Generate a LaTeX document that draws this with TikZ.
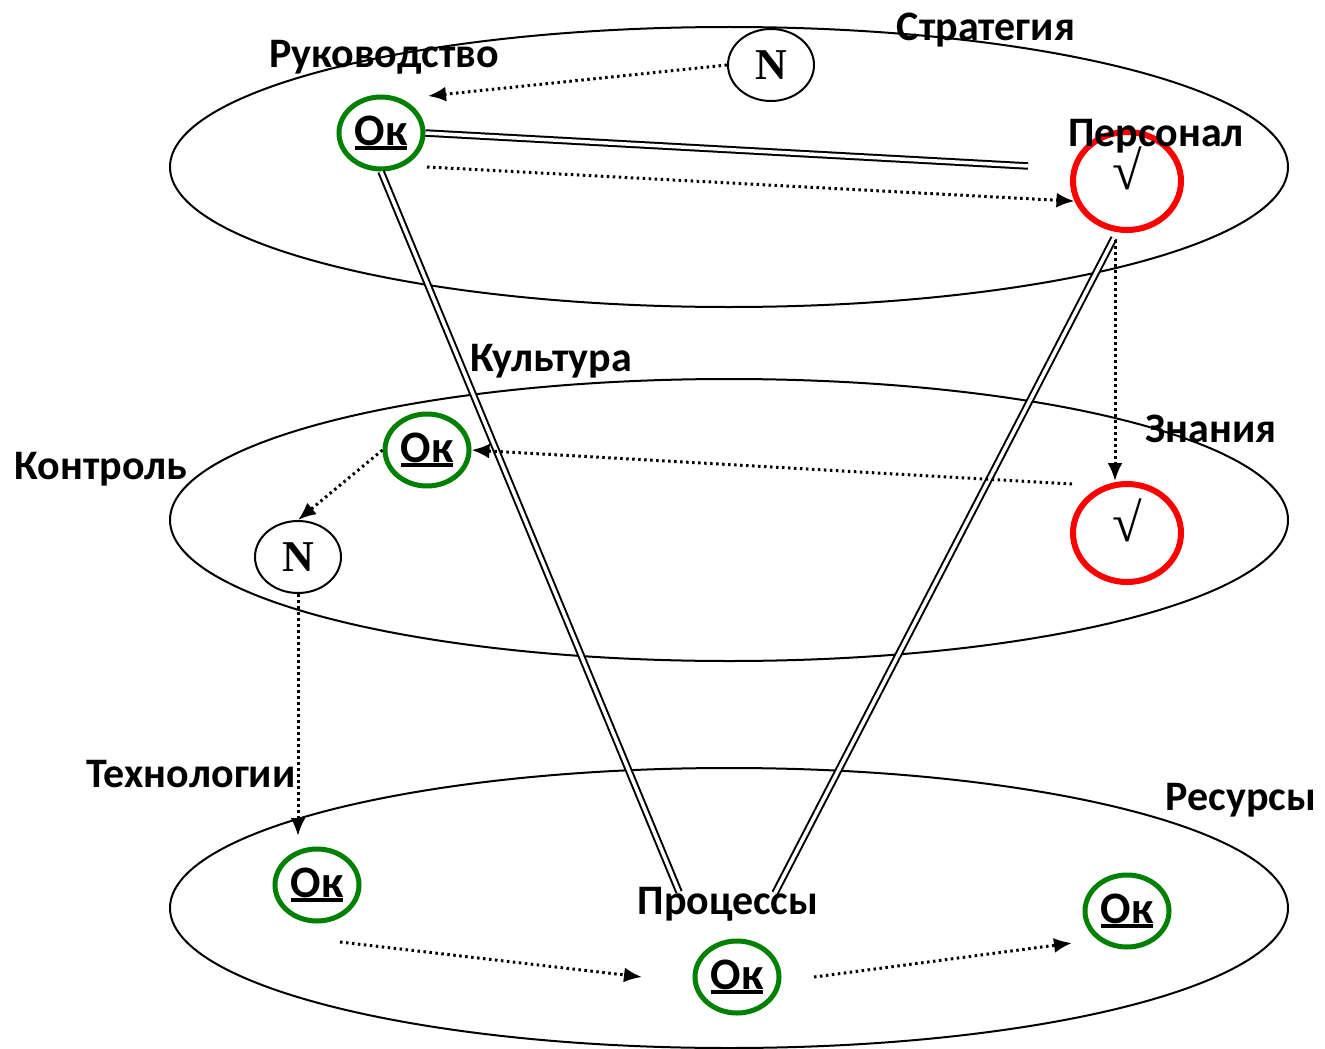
\documentclass[tikz,border=0pt]{standalone}
\usepackage{fontspec}
\setmainfont{Carlito}
\newfontfamily\serifN{Liberation Serif}
\usepackage{tikz}
\usetikzlibrary{shapes.geometric,arrows.meta}
\definecolor{okgreen}{RGB}{0,128,0}
\definecolor{badred}{RGB}{255,0,0}
\newcommand{\okt}{\setbox0\hbox{Ок}\rlap{\rule[-5pt]{\wd0}{4pt}}\box0}
\newcommand{\chk}{\raisebox{-8pt}[0pt][0pt]{√}}

\begin{document}
\begin{tikzpicture}[x=1pt,y=-1pt,
	level/.style={draw,line width=2pt},
	lbl/.style={font=\fontsize{42}{44}\selectfont\bfseries,inner sep=0pt},
	ok/.style={ellipse,draw=okgreen,line width=5pt,minimum width=84,minimum height=72,inner sep=0pt,font=\fontsize{45}{47}\selectfont\bfseries},
	bad/.style={ellipse,draw=badred,line width=6pt,minimum width=108,minimum height=98,inner sep=0pt,font=\serifN\fontsize{54}{56}\selectfont},
	nn/.style={ellipse,draw,line width=2pt,minimum width=86,minimum height=72,inner sep=0pt,font=\serifN\fontsize{44}{46}\selectfont\bfseries},
	link/.style={double,line width=2pt,double distance=3.5pt},
	flow/.style={line width=3pt,dash pattern=on 2.5pt off 3.5pt,-{Latex[length=18pt,width=15pt]}},
	]
	\useasboundingbox (0,0) rectangle (1325,1049);
	% levels
	\draw[level] (729,167) ellipse [x radius=559,y radius=140];
	\draw[level] (729,520) ellipse [x radius=559,y radius=141];
	\draw[level] (729,908) ellipse [x radius=559,y radius=140];
	% nodes
	\node[nn] (Ntop) at (771,65) {N};
	\node[ok] (OkTop) at (381,133) {\okt};
	\node[bad] (RedTop) at (1127,181) {\chk};
	\node[ok] (OkMid) at (427,450) {\okt};
	\node[nn] (Nmid) at (298,557) {N};
	\node[bad] (RedMid) at (1127,533) {\chk};
	\node[ok] (OkLeft) at (317,885) {\okt};
	\node[ok] (OkProc) at (737,977) {\okt};
	\node[ok] (OkRight) at (1127,911) {\okt};
	% free ends
	\coordinate (t1) at (428,96);
	\coordinate (t2) at (1028,166);
	\coordinate (t3) at (427,167);
	\coordinate (p1) at (679,892);
	\coordinate (p2) at (775,893);
	\coordinate (r1) at (1114,238);
	\coordinate (d1) at (1115,240);
	\coordinate (k1) at (1072,484);
	\coordinate (n1) at (298,836);
	\coordinate (b1) at (340,942);
	\coordinate (b2) at (642,977);
	\coordinate (b3) at (814,977);
	\coordinate (b4) at (1072,943);
	% links
	\draw[link] (OkTop.east) -- (t2);
	\draw[link] (OkTop.south) -- (p1);
	\draw[link] (r1) -- (p2);
	% flows
	\draw[flow] (Ntop.west) -- (t1);
	\draw[flow] (t3) -- (RedTop.201);
	\draw[flow] (d1) -- (d1 |- RedMid.north);
	\draw[flow] (k1) -- (OkMid.east);
	\draw[flow] (OkMid.west) -- (Nmid.north);
	\draw[flow] (Nmid.south) -- (n1);
	\draw[flow] (b1) -- (b2);
	\draw[flow] (b3) -- (b4);
	% labels
	\node[lbl] (lRuk) at (384,57) {Руководство};
	\node[lbl] (lStr) at (986,30) {Стратегия};
	\node[lbl] (lPer) at (1156,136) {Персонал};
	\node[lbl] (lKul) at (551,361) {Культура};
	\node[lbl] (lZna) at (1211,429) {Знания};
	\node[lbl] (lKon) at (101,469) {Контроль};
	\node[lbl] (lTex) at (191,774) {Технологии};
	\node[lbl] (lRes) at (1241,800) {Ресурсы};
	\node[lbl] (lPro) at (728,904) {Процессы};
\end{tikzpicture}
\end{document}
